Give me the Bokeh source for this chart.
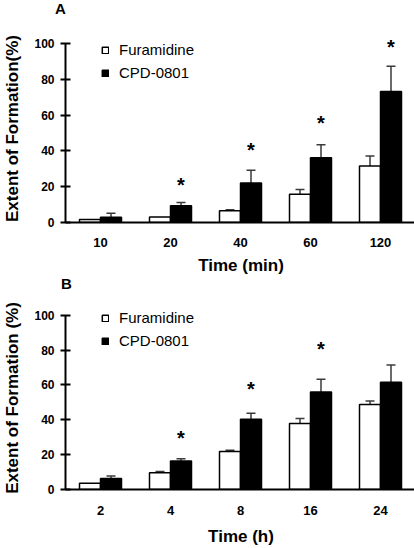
import numpy as np
from bokeh.plotting import figure
from bokeh.layouts import column
from bokeh.models import (ColumnDataSource, Whisker, TeeHead, Legend, LegendItem,
                          FixedTicker, Range1d, Div)
from bokeh.core.properties import value
from bokeh.embed import file_html
from bokeh.resources import INLINE

# ---------------- data ----------------
a_times = ["10", "20", "40", "60", "120"]
a_furamidine = [1.7, 3.1, 6.5, 15.8, 31.5]
a_furamidine_err = [0.0, 0.0, 0.6, 2.6, 5.7]
a_cpd0801 = [3.0, 9.3, 22.1, 36.1, 73.2]
a_cpd0801_err = [2.2, 1.9, 7.1, 7.3, 14.1]
a_star_y = [None, 22.0, 41.7, 56.8, 99.0]

b_times = ["2", "4", "8", "16", "24"]
b_furamidine = [3.6, 9.6, 21.8, 37.9, 48.8]
b_furamidine_err = [0.0, 0.7, 0.7, 2.8, 2.0]
b_cpd0801 = [6.3, 16.3, 40.3, 56.0, 61.6]
b_cpd0801_err = [1.5, 1.3, 3.5, 7.3, 9.9]
b_star_y = [None, 30.6, 58.7, 81.8, None]

y_ticks = [0, 20, 40, 60, 80, 100]

FONT = "Liberation Sans"
ERR_COLOR = "#3a3a3a"
FRAME_W = 351
CAT_PX = 70
Y_MAX = 105


def letter_div(letter, pad_left, h):
    return Div(text=letter, width=414, height=h, margin=(0, 0, 0, 0),
               styles={"font-family": FONT, "font-weight": "bold", "font-size": "15px",
                       "line-height": f"{h}px", "padding-left": f"{pad_left}px",
                       "color": "black"})


def make_panel(cats, fur, fur_err, cpd, cpd_err, star_y, xlabel, ylabel,
               frame_h, top_border, bottom_border, legend_bottom,
               xlab_standoff, xtitle_standoff):
    n = len(cats)
    idx = np.arange(1, n + 1, dtype=float)
    bw = 0.3
    x0 = 0.5
    p = figure(frame_width=FRAME_W, frame_height=frame_h, output_backend="svg",
               toolbar_location=None,
               x_range=Range1d(x0, x0 + FRAME_W / CAT_PX), y_range=Range1d(0, Y_MAX),
               min_border_left=63, min_border_right=0, min_border_top=top_border,
               min_border_bottom=bottom_border)
    p.outline_line_color = None
    p.xgrid.visible = False
    p.ygrid.visible = False
    p.background_fill_color = "white"
    p.border_fill_color = "white"

    src_f = ColumnDataSource(dict(x=idx - bw / 2, top=fur))
    src_c = ColumnDataSource(dict(x=idx + bw / 2, top=cpd))
    r_f = p.vbar(x="x", top="top", width=bw, bottom=0, source=src_f,
                 fill_color="white", line_color="black", line_width=1.5)
    r_c = p.vbar(x="x", top="top", width=bw, bottom=0, source=src_c,
                 fill_color="black", line_color="black", line_width=1.5)

    # error bars (upper only)
    for xs, vals, errs in ((idx - bw / 2, fur, fur_err), (idx + bw / 2, cpd, cpd_err)):
        keep = [i for i in range(n) if errs[i] > 0]
        es = ColumnDataSource(dict(base=[xs[i] for i in keep],
                                   lower=[vals[i] for i in keep],
                                   upper=[vals[i] + errs[i] for i in keep]))
        w = Whisker(base="base", lower="lower", upper="upper", source=es,
                    line_color=ERR_COLOR, line_width=1.5,
                    upper_head=TeeHead(size=9, line_color=ERR_COLOR, line_width=1.5),
                    lower_head=None)
        p.add_layout(w)

    # significance stars
    keep = [i for i in range(n) if star_y[i] is not None]
    ss = ColumnDataSource(dict(x=[idx[i] + bw / 2 for i in keep],
                               y=[star_y[i] for i in keep],
                               t=["*"] * len(keep)))
    p.text(x="x", y="y", text="t", source=ss, text_font=value(FONT),
           text_font_style="bold", text_font_size="20px", text_align="center",
           text_baseline="alphabetic", y_offset=2, text_color="black")

    # axes
    xa = p.xaxis[0]
    xa.ticker = FixedTicker(ticks=list(idx))
    xa.major_label_overrides = {float(v): c for v, c in zip(idx, cats)}
    xa.major_label_overrides.update({int(v): c for v, c in zip(idx, cats)})
    xa.axis_line_width = 2
    xa.axis_line_color = "black"
    xa.major_tick_line_color = None
    xa.minor_tick_line_color = None
    xa.major_tick_out = 0
    xa.major_tick_in = 0
    xa.major_label_standoff = xlab_standoff
    xa.major_label_text_font = FONT
    xa.major_label_text_font_style = "bold"
    xa.major_label_text_font_size = "13px"
    xa.major_label_text_color = "black"
    xa.axis_label = xlabel
    xa.axis_label_text_font = FONT
    xa.axis_label_text_font_style = "bold"
    xa.axis_label_text_font_size = "17px"
    xa.axis_label_standoff = xtitle_standoff
    xa.axis_label_text_color = "black"

    ya = p.yaxis[0]
    ya.ticker = FixedTicker(ticks=y_ticks)
    ya.bounds = (0, 100)
    ya.axis_line_width = 2
    ya.axis_line_color = "black"
    ya.major_tick_line_width = 2
    ya.major_tick_line_color = "black"
    ya.major_tick_out = 5
    ya.major_tick_in = 5
    ya.minor_tick_line_color = None
    ya.major_label_standoff = 6
    ya.major_label_text_font = FONT
    ya.major_label_text_font_style = "bold"
    ya.major_label_text_font_size = "12px"
    ya.major_label_text_color = "black"
    ya.axis_label = ylabel
    ya.axis_label_text_font = FONT
    ya.axis_label_text_font_style = "bold"
    ya.axis_label_text_font_size = "17px"
    ya.axis_label_standoff = 9
    ya.axis_label_text_color = "black"

    legend = Legend(items=[LegendItem(label="Furamidine", renderers=[r_f]),
                           LegendItem(label="CPD-0801", renderers=[r_c])],
                    location=(36, legend_bottom))
    legend.glyph_width = 8
    legend.glyph_height = 8
    legend.label_standoff = 10
    legend.spacing = 6
    legend.padding = 0
    legend.margin = 0
    legend.label_height = 16
    legend.border_line_color = None
    legend.background_fill_alpha = 0
    legend.label_text_font = FONT
    legend.label_text_font_size = "15px"
    legend.label_text_color = "black"
    p.add_layout(legend)
    return p


da = letter_div("A", 55, 17)
pa = make_panel(a_times, a_furamidine, a_furamidine_err, a_cpd0801, a_cpd0801_err,
                a_star_y, "Time (min)", "Extent of Formation(%)",
                frame_h=188, top_border=17, bottom_border=53, legend_bottom=141,
                xlab_standoff=15, xtitle_standoff=6)
db = letter_div("B", 61, 14)
pb = make_panel(b_times, b_furamidine, b_furamidine_err, b_cpd0801, b_cpd0801_err,
                b_star_y, "Time (h)", "Extent of Formation (%)",
                frame_h=183, top_border=15, bottom_border=61, legend_bottom=140,
                xlab_standoff=16, xtitle_standoff=9)

layout = column(da, pa, db, pb, spacing=0)
open("out.html", "w").write(file_html(layout, INLINE))
